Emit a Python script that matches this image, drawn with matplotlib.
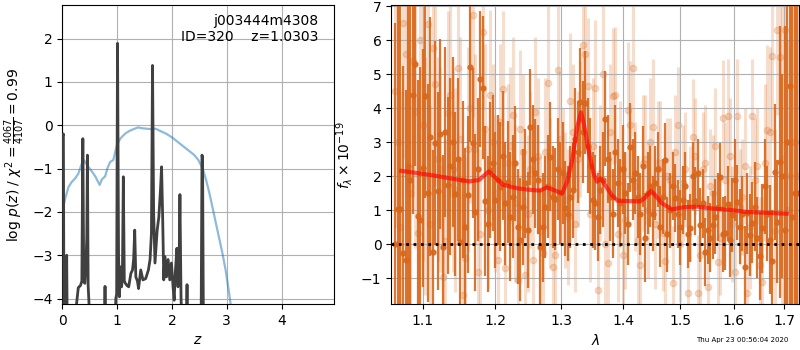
import matplotlib
matplotlib.use("Agg")
import matplotlib.pyplot as plt
from matplotlib.ticker import NullLocator, FixedLocator, FixedFormatter

# left panel: log p(z) and chi2 curve
z_pz = [0.0, 0.018, 0.03, 0.065, 0.078, 0.09, 0.20, 0.26, 0.29, 0.33, 0.355, 0.373, 0.39, 0.41,
        0.43, 0.445, 0.457, 0.47, 0.485, 0.51, 0.765, 0.778, 0.79, 0.95, 0.975, 0.99, 1.006,
        1.025, 1.04, 1.06, 1.08, 1.095, 1.112, 1.13, 1.15, 1.18, 1.21, 1.25, 1.28, 1.30, 1.32,
        1.34, 1.37, 1.39, 1.43, 1.47, 1.52, 1.57, 1.60, 1.625, 1.645, 1.665, 1.69, 1.73, 1.76,
        1.79, 1.81, 1.83, 1.85, 1.87, 1.90, 1.93, 1.96, 1.99, 2.02, 2.04, 2.06, 2.09, 2.11, 2.13,
        2.145, 2.165, 2.19, 2.255, 2.275, 2.29, 2.31, 2.53, 2.548, 2.558, 2.575, 2.6, 4.95]
logpz = [-0.25, -0.2, -5, -5, -3.0, -5, -5, -4.1, -3.75, -3.7, -3.6, -0.31, -3.6, -3.65,
         -3.2, -2.6, -0.69, -3.7, -4.1, -5, -5, -3.72, -5, -5, -4.0, -3.9, 1.89,
         -3.0, -3.96, -3.27, -3.73, -3.5, -1.19, -3.6, -3.65, -3.7, -3.73, -3.42, -3.34, -3.1, -2.42,
         -3.5, -3.6, -3.77, -3.34, -3.57, -3.54, -3.34, -3.1, -2.5, 1.38, -2.0, -3.18, -2.42, -2.12,
         -1.5, -0.96, -2.12, -3.57, -3.03, -3.5, -3.1, -3.57, -3.18, -3.73, -4.04, -3.42, -2.84, -3.73, -3.2,
         -1.6, -3.96, -5, -5, -3.68, -5, -5, -5, -0.69, -0.75, -5, -5, -5]

z_chi = [0.0, 0.02, 0.05, 0.11, 0.17, 0.23, 0.29, 0.35, 0.39, 0.45, 0.54, 0.6, 0.68, 0.72, 0.78,
         0.82, 0.87, 0.93, 0.99, 1.05, 1.1, 1.16, 1.24, 1.3, 1.38, 1.46, 1.54, 1.62, 1.7, 1.8, 1.9,
         2.0, 2.1, 2.2, 2.3, 2.4, 2.48, 2.56, 2.62, 2.68, 2.74, 2.8, 2.86, 2.92, 2.98, 3.04, 3.1]
chi = [-2.1, -1.88, -1.7, -1.43, -1.31, -1.23, -1.12, -0.9, -0.8, -0.92, -1.07, -1.18, -1.38, -1.25, -1.18,
       -1.0, -0.85, -0.8, -0.48, -0.32, -0.25, -0.18, -0.12, -0.09, -0.05, -0.07, -0.08, -0.09, -0.08, -0.14, -0.2,
       -0.28, -0.38, -0.48, -0.58, -0.68, -0.8, -1.0, -1.25, -1.55, -1.9, -2.25, -2.6, -2.95, -3.35, -3.85, -4.4]

# right panel: spectrum, two interleaved wavelength grids
wave_a = [1.0644, 1.0709, 1.0774, 1.0839, 1.0904, 1.0970, 1.1036, 1.1102, 1.1169, 1.1237, 1.1305,
          1.1373, 1.1441, 1.1510, 1.1579, 1.1649, 1.1719, 1.1790, 1.1861, 1.1933, 1.2005, 1.2077,
          1.2150, 1.2223, 1.2297, 1.2371, 1.2446, 1.2521, 1.2596, 1.2672, 1.2749, 1.2826, 1.2903,
          1.2981, 1.3059, 1.3138, 1.3217, 1.3297, 1.3377, 1.3458, 1.3539, 1.3620, 1.3702, 1.3785,
          1.3868, 1.3952, 1.4036, 1.4121, 1.4206, 1.4292, 1.4378, 1.4464, 1.4551, 1.4639, 1.4727,
          1.4816, 1.4906, 1.4996, 1.5086, 1.5177, 1.5269, 1.5361, 1.5454, 1.5547, 1.5641, 1.5735,
          1.5830, 1.5925, 1.6021, 1.6118, 1.6215, 1.6313, 1.6411, 1.6510, 1.6610, 1.6710, 1.6811,
          1.6912, 1.7014, 1.7116, 1.7219]
wave_b = [1.0677, 1.0742, 1.0807, 1.0872, 1.0937, 1.1003, 1.1069, 1.1136, 1.1203, 1.1271, 1.1339,
          1.1407, 1.1476, 1.1545, 1.1614, 1.1684, 1.1755, 1.1826, 1.1897, 1.1969, 1.2041, 1.2114,
          1.2187, 1.2260, 1.2334, 1.2408, 1.2483, 1.2558, 1.2634, 1.2710, 1.2787, 1.2864, 1.2942,
          1.3020, 1.3098, 1.3177, 1.3257, 1.3337, 1.3417, 1.3498, 1.3579, 1.3661, 1.3743, 1.3826,
          1.3910, 1.3994, 1.4078, 1.4163, 1.4249, 1.4335, 1.4421, 1.4508, 1.4595, 1.4683, 1.4771,
          1.4861, 1.4951, 1.5041, 1.5132, 1.5223, 1.5315, 1.5408, 1.5501, 1.5594, 1.5688, 1.5783,
          1.5878, 1.5973, 1.6070, 1.6167, 1.6264, 1.6362, 1.6461, 1.6560, 1.6660, 1.6761, 1.6862,
          1.6963, 1.7065, 1.7168, 1.7271]

# optimal-extraction points (dark)
flux_dark_a = [0.02, 1.04, -0.45, 1.9, 5.3, 0.7, 4.35, 3.17, 2.98, 3.25, 3.31,
               2.29, 1.48, 0.07, 0.52, 5.21, 0.94, 4.86, 1.27, 2.19, 1.3, 1.69,
               1.2, 0.81, 2.38, 0.14, 1.8, 3.45, 2.09, -0.07, 1.1, 2.58, 1.32,
               1.5, 1.06, 1.38, 3.1, 4.18, 4.17, 2.3, 1.22, 1.6, 3.69, 1.4,
               2.71, 1.21, 1.5, 2.85, 2.09, 0.9, 0.2, 1.7, 1.8, 0.52, 2.48,
               1.0, 1.35, 0.5, 1.7, 0.47, 1.26, 0.57, -0.22, 0.2, 0.81, 1.99,
               0.33, 0.13, 1.89, 0.52, -0.66, 0.28, 1.11, -0.34, 1.7, 0.13, 2.14,
               2.41, 0.42, 4.66, 1.5]
err_dark_a = [6.5, 6.0, 5.0, 5.5, 3.0, 4.5, 3.0, 3.5, 3.0, 2.8, 2.5,
              2.6, 2.4, 2.5, 2.3, 2.2, 2.3, 2.0, 2.2, 2.0, 2.0, 1.9,
              1.8, 1.9, 1.7, 1.8, 1.6, 1.7, 1.6, 1.7, 1.5, 1.6, 1.5,
              1.5, 1.4, 1.5, 1.5, 1.6, 1.5, 1.4, 1.4, 1.3, 1.4, 1.3,
              1.4, 1.3, 1.2, 1.3, 1.2, 1.2, 1.3, 1.2, 1.1, 1.2, 1.1,
              1.1, 1.0, 1.1, 1.0, 1.0, 1.0, 1.1, 1.0, 1.0, 1.1, 1.0,
              1.1, 1.1, 1.2, 1.1, 1.2, 1.2, 1.3, 1.3, 1.4, 1.6, 2.0,
              4.0, 6.0, 7.0, 9.0]
flux_dark_b = [1.04, -0.27, 2.3, 4.4, 0.83, 2.24, 1.5, -0.23, 1.57, -0.08, 1.74,
               3.0, 2.5, 1.9, 1.46, 2.98, 2.2, 4.6, 0.6, 2.4, 1.89, 2.6,
               1.84, 1.4, 0.52, 1.1, 0.42, 2.5, 1.9, 0.5, 1.7, 1.38, 2.2,
               2.09, 0.9, 1.6, 2.7, 3.3, 2.9, 1.3, 0.8, 1.9, 2.5, 0.9,
               1.8, 2.2, 0.6, 1.9, 1.4, 2.29, 1.5, 0.9, 2.2, 1.4, 0.3,
               1.7, 0.9, 1.3, 0.3, 2.0, 2.09, 1.2, 0.42, 0.57, 1.11, 0.3,
               1.19, 0.86, 1.23, 0.9, 0.91, 0.64, 0.2, 0.47, 0.9, -0.5, 0.67,
               2.0, 3.0, 0.8, 1.5]
err_dark_b = [6.0, 5.5, 5.0, 3.5, 4.0, 3.5, 3.2, 3.0, 2.9, 2.7, 2.6,
              2.5, 2.4, 2.3, 2.3, 2.2, 2.1, 2.1, 2.0, 2.0, 1.9, 1.9,
              1.8, 1.8, 1.7, 1.7, 1.7, 1.6, 1.6, 1.6, 1.5, 1.5, 1.5,
              1.5, 1.4, 1.4, 1.5, 1.5, 1.4, 1.4, 1.3, 1.4, 1.3, 1.3,
              1.3, 1.3, 1.2, 1.2, 1.2, 1.2, 1.2, 1.1, 1.1, 1.1, 1.1,
              1.0, 1.0, 1.0, 1.0, 1.0, 1.0, 1.0, 1.0, 1.0, 1.0, 1.1,
              1.1, 1.1, 1.1, 1.1, 1.2, 1.2, 1.2, 1.3, 1.4, 1.5, 1.8,
              3.0, 5.0, 7.0, 9.0]

# second grism / unweighted points (light)
flux_light_a = [4.5, 0.5, 5.6, 1.5, 3.9, 6.0, 2.0, 0.6, 4.7, 2.2, 0.1,
                4.4, 1.6, 3.1, -0.4, 4.0, 2.8, 0.3, 3.4, 4.4, 1.5, 3.6,
                -0.7, 2.9, 1.2, 3.4, -0.9, 2.2, 3.9, 0.4, 2.7, 1.5, -0.3,
                3.1, 1.3, 4.2, 0.6, 3.4, 5.6, 0.9, 4.6, 2.1, 0.0, 3.3,
                4.4, 2.2, 0.7, 3.5, 1.7, -0.6, 2.5, 3.0, 0.6, 2.4, -0.5,
                1.9, 2.7, 0.0, 2.2, 1.2, 2.6, -0.3, 2.4, 1.7, 2.9, 0.2,
                1.9, 2.6, -0.8, 1.1, 2.3, 0.5, 1.9, -0.6, 2.4, 3.3, 0.4,
                5.5, 6.3, 2.0, 3.0]
err_light_a = [4.0, 4.0, 4.0, 4.0, 4.0, 4.0, 3.5, 3.5, 3.0, 3.0, 3.0,
               3.0, 3.0, 3.0, 3.0, 2.8, 2.8, 2.5, 2.5, 2.5, 2.3, 2.3,
               2.3, 2.3, 2.3, 2.3, 2.3, 2.3, 2.2, 2.2, 2.2, 2.2, 2.2,
               2.0, 2.0, 2.0, 2.0, 2.0, 2.0, 2.0, 2.0, 2.0, 2.0, 2.0,
               2.0, 2.0, 2.0, 1.9, 1.9, 1.9, 1.9, 1.9, 1.9, 1.8, 1.8,
               1.8, 1.7, 1.7, 1.7, 1.7, 1.7, 1.7, 1.7, 1.7, 1.7, 1.7,
               1.7, 1.7, 1.7, 1.7, 1.7, 1.8, 1.8, 2.0, 2.3, 2.5, 3.0,
               4.0, 5.0, 5.0, 5.0]
flux_light_b = [3.0, 6.5, 2.0, 5.38, 0.33, 3.5, 6.48, 5.76, 2.5, -0.95, 3.85,
                2.2, 5.18, -1.49, 2.8, 6.75, -0.8, 6.25, 1.0, 3.0, -0.46, 4.56,
                2.4, 3.8, -1.05, 2.7, 0.9, -0.46, 2.6, -0.27, 4.74, -0.66, 5.13,
                2.0, 0.8, 3.3, 2.5, 5.87, 4.66, 2.9, -1.34, 5.0, -0.56, 4.35,
                0.3, -0.32, 3.95, 5.18, 0.13, 2.4, 1.0, 3.46, 2.2, 0.33, 2.0,
                -1.15, 3.51, 1.8, -1.44, 3.17, -1.44, 2.2, -1.25, 1.5, -0.52, 3.71,
                3.76, 0.6, 3.76, 1.4, -1.44, 3.76, 2.3, -1.1, 3.35, 5.54, 6.31,
                2.5, 1.0, 3.0, 2.0]
err_light_b = [4.0, 4.0, 4.0, 4.0, 4.0, 4.0, 4.0, 3.0, 3.0, 3.0, 3.0,
               3.0, 3.0, 3.0, 3.0, 3.0, 3.0, 2.3, 2.3, 2.3, 2.3, 2.3,
               2.3, 2.3, 2.3, 2.3, 2.3, 2.3, 2.3, 2.3, 2.3, 2.3, 2.3,
               2.0, 2.0, 2.0, 2.0, 2.0, 2.0, 2.0, 2.0, 2.0, 2.0, 2.0,
               2.0, 2.0, 2.0, 2.0, 2.0, 2.0, 2.0, 2.0, 2.0, 1.7, 1.7,
               1.7, 1.7, 1.7, 1.7, 1.7, 1.7, 1.7, 1.7, 1.7, 1.7, 1.7,
               1.7, 1.7, 1.7, 1.7, 1.7, 1.7, 1.7, 2.5, 2.5, 2.5, 2.5,
               5.0, 5.0, 5.0, 5.0]

wave_model = [1.072, 1.110, 1.137, 1.163, 1.177, 1.191, 1.198, 1.212, 1.232, 1.252, 1.267, 1.277,
              1.285, 1.301, 1.309, 1.317, 1.325, 1.331, 1.336, 1.343, 1.351, 1.357, 1.363, 1.370,
              1.381, 1.391, 1.412, 1.429, 1.437, 1.448, 1.455, 1.467, 1.485, 1.506, 1.530, 1.561,
              1.593, 1.625, 1.658, 1.705]
flux_model = [2.16, 2.04, 1.94, 1.85, 1.89, 2.14, 2.01, 1.75, 1.65, 1.60, 1.58, 1.67,
              1.62, 1.50, 1.84, 2.48, 3.46, 3.88, 3.51, 2.78, 2.09, 1.84, 1.94, 1.75,
              1.45, 1.28, 1.27, 1.26, 1.36, 1.57, 1.45, 1.21, 1.03, 1.09, 1.11, 1.05,
              1.01, 0.95, 0.93, 0.90]

fig = plt.figure(figsize=(8, 3.5), dpi=100)
ax1 = fig.add_axes([0.078, 0.131, 0.339, 0.854])
ax2 = fig.add_axes([0.489, 0.131, 0.510, 0.854])

ax1.plot(z_chi, chi, color='tab:blue', alpha=0.5, lw=1.6, zorder=2)
ax1.plot(z_pz, logpz, color='#404040', lw=2, zorder=3)
ax1.set_xlim(0, 4.95)
ax1.set_ylim(-4.13, 2.77)
ax1.set_xticks([0, 1, 2, 3, 4])
ax1.set_yticks([-4, -3, -2, -1, 0, 1, 2])
ax1.grid(True)
ax1.set_xlabel(r'$z$')
ax1.set_ylabel(r'log $p(z)$ / $\chi^2=\frac{4067}{4107}=0.99$')
ax1.text(0.945, 0.97, 'j003444m4308\nID=320    z=1.0303', transform=ax1.transAxes,
         ha='right', va='top', fontsize=10)

col = '#d9661a'
for w, f, e in [(wave_b, flux_light_b, err_light_b), (wave_a, flux_light_a, err_light_a)]:
    ax2.errorbar(w, f, yerr=e, marker='o', ms=4.5, linestyle='None',
                 color=col, alpha=0.22, elinewidth=2.2, capsize=0, zorder=1)
for w, f, e in [(wave_a, flux_dark_a, err_dark_a), (wave_b, flux_dark_b, err_dark_b)]:
    ax2.errorbar(w, f, yerr=e, marker='o', ms=3.5, linestyle='None',
                 color=col, alpha=0.9, elinewidth=1.6, capsize=0, zorder=2)
ax2.plot(wave_model, flux_model, color='red', alpha=0.65, lw=3, zorder=3)
ax2.axhline(0, color='k', linestyle=':', lw=2, zorder=4)
ax2.set_xscale('log')
ax2.set_xlim(1.059, 1.731)
ax2.set_ylim(-1.76, 7.03)
ticks = [1.1, 1.2, 1.3, 1.4, 1.5, 1.6, 1.7]
ax2.xaxis.set_major_locator(FixedLocator(ticks))
ax2.xaxis.set_major_formatter(FixedFormatter(['1.1', '1.2', '1.3', '1.4', '1.5', '1.6', '1.7']))
ax2.xaxis.set_minor_locator(NullLocator())
ax2.set_yticks([-1, 0, 1, 2, 3, 4, 5, 6, 7])
ax2.grid(True)
ax2.set_xlabel(r'$\lambda$')
ax2.set_ylabel(r'$f_\lambda\times10^{-19}$')

fig.text(0.985, 0.02, 'Thu Apr 23 00:56:04 2020', ha='right', va='bottom', fontsize=5)

fig.savefig('out.png', dpi=100)
